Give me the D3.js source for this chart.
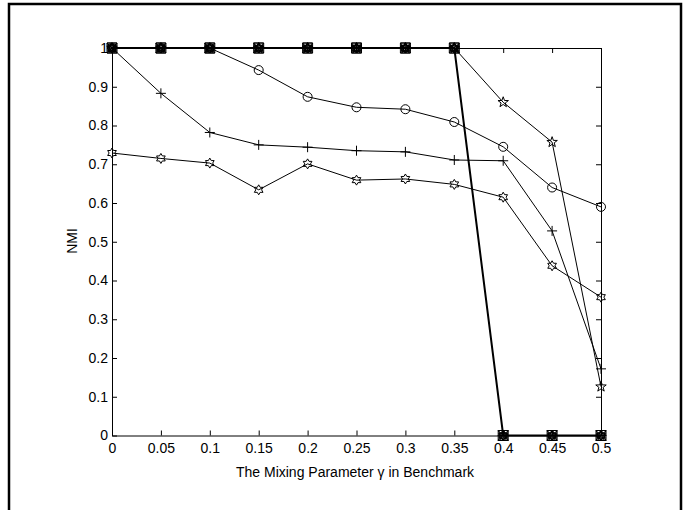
<html>
<script src='https://d3js.org/d3.v7.min.js'></script>
<style>
body { margin: 0; background: #fff; }
text { font-family: "Liberation Sans", Arial, sans-serif; fill: #000; }
.line { fill: none; stroke: #000; }
.mark { fill: none; stroke: #000; stroke-width: 1; }
</style>
<body onload='init()'>
<svg width=691 height=510></svg>
<script>
// mixing parameter values on the x axis
var gammas = [0, 0.05, 0.1, 0.15, 0.2, 0.25, 0.3, 0.35, 0.4, 0.45, 0.5];
var yTicks = [0, 0.1, 0.2, 0.3, 0.4, 0.5, 0.6, 0.7, 0.8, 0.9, 1];

// NMI per method
var nmiCircle    = [1, 1, 1, 0.943, 0.874, 0.847, 0.842, 0.809, 0.745, 0.640, 0.590];
var nmiPlus      = [1, 0.883, 0.782, 0.750, 0.744, 0.735, 0.732, 0.711, 0.709, 0.528, 0.172];
var nmiHexagram  = [0.729, 0.715, 0.703, 0.634, 0.701, 0.659, 0.662, 0.648, 0.615, 0.438, 0.357];
var nmiPentagram = [1, 1, 1, 1, 1, 1, 1, 1, 0.860, 0.757, 0.126];
var nmiStep      = [1, 1, 1, 1, 1, 1, 1, 1, 0, 0, 0];

function init() {

var svg = d3.select("svg");

// outer figure frame
svg.append("rect").attr("x", 9).attr("y", 4).attr("width", 672).attr("height", 520)
   .attr("fill", "none").attr("stroke", "#000").attr("stroke-width", 2.5);

var x = d3.scaleLinear().domain([0, 0.5]).range([112, 601]);
var y = d3.scaleLinear().domain([0, 1]).range([435.5, 48]);
var fmt = d3.format("~g");

function styleAxis(g) {
  g.attr("font-size", null).attr("font-family", null);
  g.selectAll("path.domain").attr("stroke", "#000").attr("stroke-width", 1);
  g.selectAll(".tick line").attr("stroke", "#000");
  g.selectAll("text").style("font-size", "14px");
}

svg.append("g").attr("transform", "translate(0," + y(0) + ")")
   .call(d3.axisBottom(x).tickValues(gammas).tickFormat(fmt).tickSizeInner(-5).tickSizeOuter(0).tickPadding(8))
   .call(styleAxis);
svg.append("g").attr("transform", "translate(0," + y(1) + ")")
   .call(d3.axisTop(x).tickValues(gammas).tickFormat("").tickSizeInner(-5).tickSizeOuter(0))
   .call(styleAxis);
svg.append("g").attr("transform", "translate(" + x(0) + ",0)")
   .call(d3.axisLeft(y).tickValues(yTicks).tickFormat(fmt).tickSizeInner(-5).tickSizeOuter(0).tickPadding(4))
   .call(styleAxis);
svg.append("g").attr("transform", "translate(" + x(0.5) + ",0)")
   .call(d3.axisRight(y).tickValues(yTicks).tickFormat("").tickSizeInner(-5).tickSizeOuter(0))
   .call(styleAxis);

svg.append("text").attr("x", 355).attr("y", 477).attr("text-anchor", "middle")
   .style("font-size", "14px").text("The Mixing Parameter \u03b3 in Benchmark");
svg.append("text").attr("transform", "translate(77,241) rotate(-90)").attr("text-anchor", "middle")
   .style("font-size", "14px").text("NMI");

// marker shapes
function star(n, R, r) {
  var p = [];
  for (var i = 0; i < 2 * n; i++) {
    var a = -Math.PI / 2 + i * Math.PI / n, rr = i % 2 ? r : R;
    p.push([rr * Math.cos(a), rr * Math.sin(a)]);
  }
  return "M" + p.join("L") + "Z";
}
var shapes = {
  circle: function(s) { return d3.arc()({innerRadius: 0, outerRadius: s, startAngle: 0, endAngle: 2 * Math.PI}); },
  plus: function(s) { return "M" + (-s) + ",0H" + s + "M0," + (-s) + "V" + s; },
  cross: function(s) { return "M" + (-s) + "," + (-s) + "L" + s + "," + s + "M" + (-s) + "," + s + "L" + s + "," + (-s); },
  square: function(s) { return "M" + (-s) + "," + (-s) + "H" + s + "V" + s + "H" + (-s) + "Z"; },
  diamond: function(s) { return "M0," + (-s) + "L" + s + ",0L0," + s + "L" + (-s) + ",0Z"; },
  triUp: function(s) { return "M0," + (-s) + "L" + s + "," + s + "H" + (-s) + "Z"; },
  triDown: function(s) { return "M0," + s + "L" + s + "," + (-s) + "H" + (-s) + "Z"; },
  pentagram: function(s) { return star(5, s, s * 0.4); },
  hexagram: function(s) { return star(6, s, s * 0.58); }
};

var line = d3.line().x(function(d, i) { return x(gammas[i]); }).y(function(d) { return y(d); });

function series(vals, marks, size, width, stroke) {
  svg.append("path").datum(vals).attr("class", "line").attr("stroke-width", width).attr("d", line);
  marks.forEach(function(m) {
    svg.selectAll(null).data(vals).enter().append("path").attr("class", "mark")
       .attr("stroke", stroke || "#000").attr("stroke-width", stroke ? 0.8 : 1)
       .attr("transform", function(d, i) { return "translate(" + x(gammas[i]) + "," + y(d) + ")"; })
       .attr("d", shapes[m](size));
  });
}

series(nmiHexagram, ["hexagram"], 5, 1);
series(nmiPlus, ["plus"], 5, 1);
series(nmiCircle, ["circle"], 4.5, 1);
series(nmiPentagram, ["pentagram"], 5.5, 1);
series(nmiStep, ["square", "diamond", "cross", "plus", "triUp", "triDown", "hexagram", "pentagram"], 5, 2, "#333");

}
</script>
</body>
</html>
